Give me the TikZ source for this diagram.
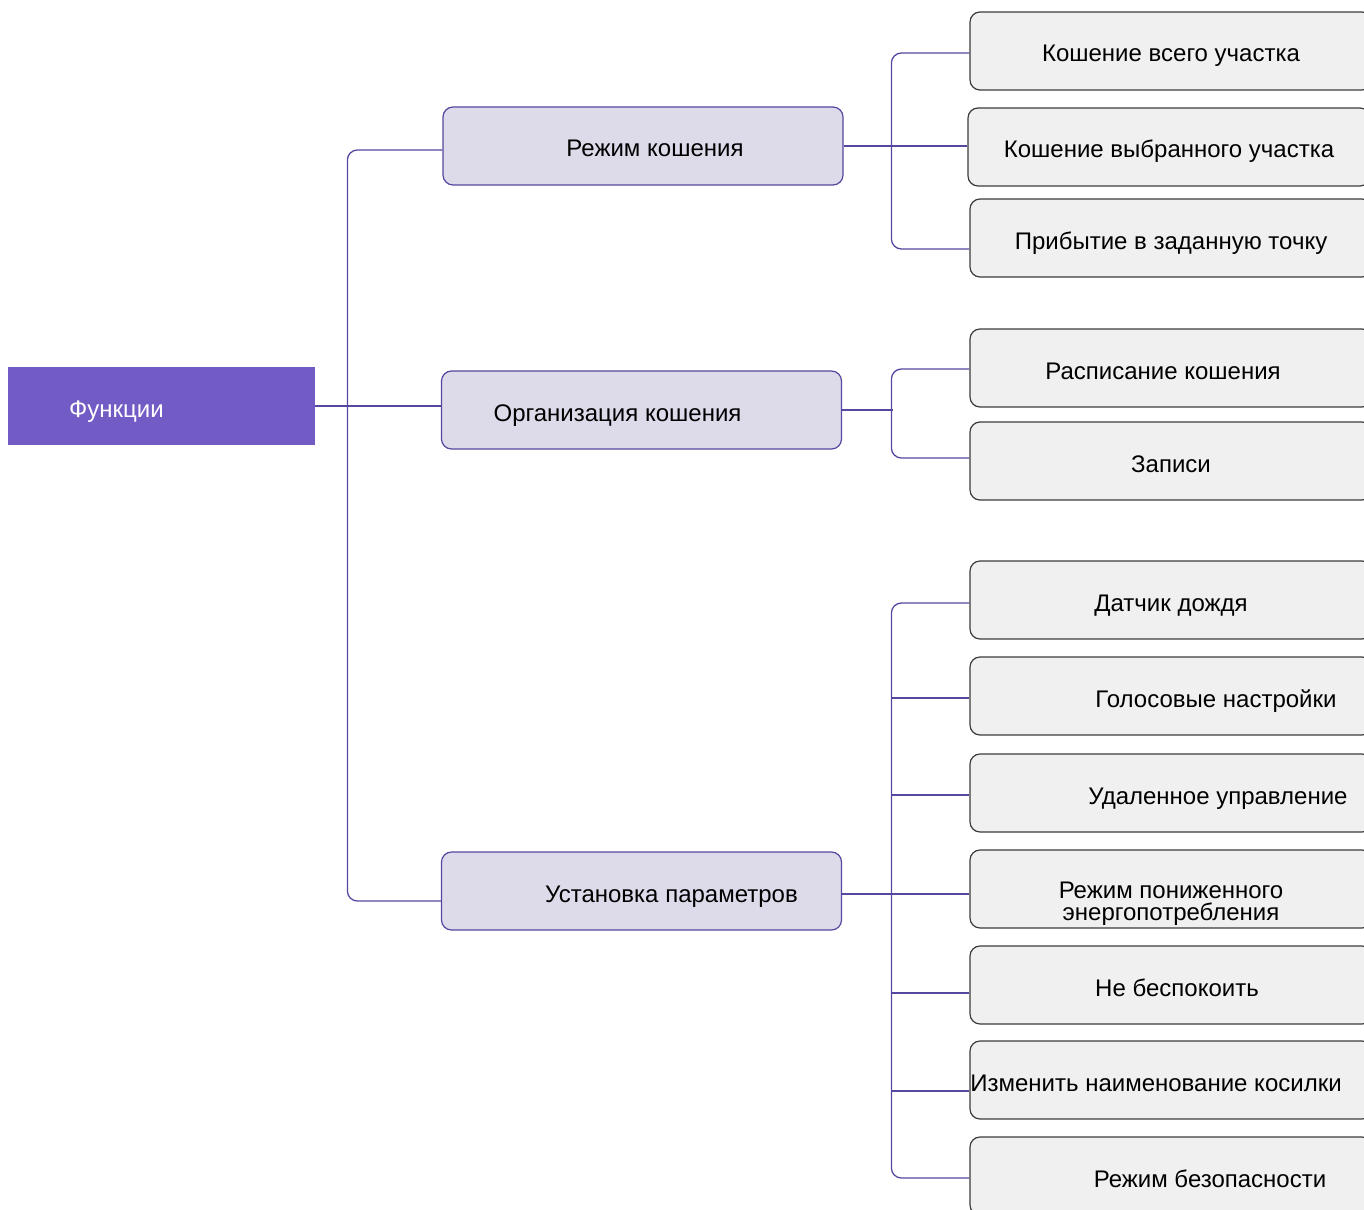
\documentclass[tikz,border=0pt]{standalone}
\usepackage{fontspec}
\setmainfont{Liberation Sans}
\usetikzlibrary{positioning}
\definecolor{fnRoot}{HTML}{735BC6}
\definecolor{fnLine}{HTML}{5548A0}
\definecolor{fnMid}{HTML}{DDDAEA}
\definecolor{fnLeaf}{HTML}{F0F0F0}
\definecolor{fnEdge}{HTML}{3C3C3C}
\tikzset{
  root/.style={fill=fnRoot, text=white, minimum width=307pt, minimum height=78pt,
              inner sep=0pt, text height=22pt, text depth=0pt,
              font=\fontsize{24}{24}\selectfont},
  group/.style={rounded corners=10pt, draw=fnLine, fill=fnMid, line width=1.2pt,
              minimum width=400pt, minimum height=78pt, inner sep=0pt,
              text height=22pt, text depth=0pt, font=\fontsize{24}{24}\selectfont},
  leaf/.style={rounded corners=10pt, draw=fnEdge, fill=fnLeaf, line width=1.2pt,
              minimum width=402pt, minimum height=78pt, inner sep=0pt, align=center,
              text height=22pt, text depth=0pt, font=\fontsize{24}{22}\selectfont},
  link/.style={draw=fnLine, line width=1.3pt, rounded corners=10pt},
}
\begin{document}
\begin{tikzpicture}[x=1pt,y=-1pt]
        \clip (0,0) rectangle (1364,1209);
        \fill[white] (0,0) rectangle (1364,1209);
        % root and groups
        \node[root] (fn) at (161.5,406) {Функции\hspace*{90pt}};
        \node[group] (mow) at (643,146) {\hspace*{24pt}Режим кошения};
        \node[group] (org) at (641.5,410) {Организация кошения\hspace*{48pt}};
        \node[group] (set) at (641.5,891) {\hspace*{60pt}Установка параметров};
        % leaves
        \node[leaf] (whole) at (1171,51) {Кошение всего участка};
        \node[leaf] (part) at (1169,147) {Кошение выбранного участка};
        \node[leaf] (point) at (1171,238) {Прибытие в заданную точку};
        \node[leaf] (plan) at (1171,368) {Расписание кошения\hspace*{16pt}};
        \node[leaf] (log) at (1171,461) {Записи};
        \node[leaf] (rain) at (1171,600) {Датчик дождя};
        \node[leaf] (voice) at (1171,696) {\hspace*{90pt}Голосовые настройки};
        \node[leaf] (remote) at (1171,793) {\hspace*{94pt}Удаленное управление};
        \node[leaf,text height=70pt,text depth=8pt] (eco) at (1171,889)
              {Режим пониженного\\энергопотребления};
        \node[leaf] (quiet) at (1171,985) {\hspace*{12pt}Не беспокоить};
        \node[leaf] (name) at (1171,1080) {Изменить наименование косилки\hspace*{30pt}};
        \node[leaf] (safe) at (1171,1176) {\hspace*{78pt}Режим безопасности};
        % connectors
        \draw[link] (fn.east) -- (fn.east -| org.west);
        \draw[link] ([yshift=-4pt]mow.west) -- ++(-95,0) |- ([yshift=-10pt]set.west);
        \draw[link] (mow.east) -- (mow.east -| part.west);
        \draw[link] ([yshift=-2pt]whole.west) -- ++(-78,0) |- ([yshift=-11pt]point.west);
        \draw[link] (org.east) -- ++(51,0);
        \draw[link] ([yshift=-1pt]plan.west) -- ++(-78,0) |- ([yshift=3pt]log.west);
        \draw[link] ([yshift=-3pt]set.east) -- ([yshift=-5pt]eco.west);
        \draw[link] ([yshift=-3pt]rain.west) -- ++(-78,0) |- ([yshift=-2pt]safe.west);
        \foreach \n/\dy in {voice/-2,remote/-2,quiet/-8,name/-11}
          \draw[link] ([yshift=\dy pt]\n.west) -- ++(-78,0);
      \end{tikzpicture}
\end{document}
